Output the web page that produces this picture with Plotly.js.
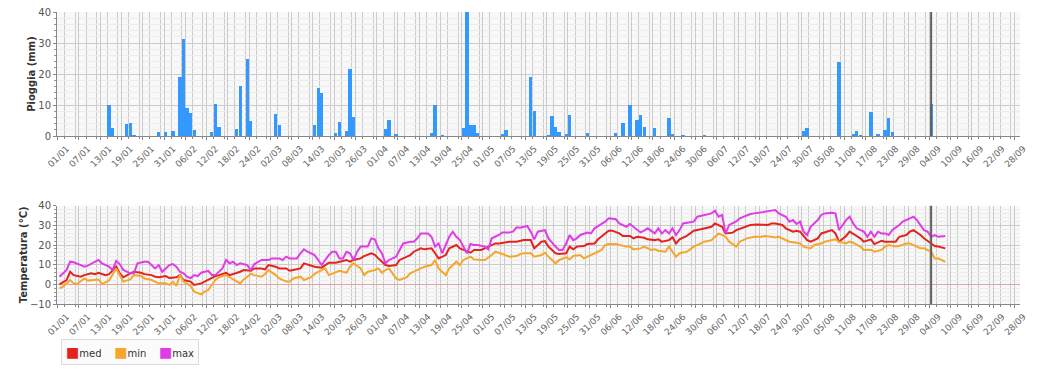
<!DOCTYPE html>
<html>
<head>
<meta charset="utf-8">
<script src="https://cdn.plot.ly/plotly-3.0.1.min.js"></script>
<style>
html,body{margin:0;padding:0;background:#ffffff;}
#chart{width:1039px;height:369px;}
</style>
</head>
<body>
<div id="chart"></div>
<script>
// ---- Data (day index counted from 01/01) ----
const rainDay = [14,15,19,20,21,28,30,32,34,35,36,37,38,43,44,45,50,51,53,54,61,62,72,73,74,78,79,81,82,83,92,93,95,105,106,108,114,115,116,117,118,125,126,133,134,138,139,140,141,143,144,149,157,159,161,163,164,165,168,172,173,176,182,210,211,220,224,225,226,229,231,233,234,235,246];
const rainMm = [10.0,2.7,3.8,4.1,0.4,1.4,1.4,1.7,18.9,31.2,8.9,7.5,1.9,1.2,10.3,3.0,2.3,16.1,24.9,4.9,7.1,3.5,3.5,15.4,14.0,0.9,4.5,1.7,21.5,6.2,2.2,5.2,0.5,0.9,9.9,0.3,2.6,45.0,3.7,3.7,1.1,0.6,1.9,18.9,8.1,0.3,6.3,2.9,1.2,0.6,6.7,1.1,0.9,4.3,9.9,5.2,6.7,2.8,2.6,5.9,0.5,0.3,0.3,1.6,2.5,23.8,0.6,1.6,0.4,7.8,0.6,1.9,5.9,1.4,10.2];

const medDay = [0,2,3,4,6,7,9,10,11,13,14,16,17,18,20,21,23,24,26,27,28,30,31,33,34,35,37,38,40,41,42,44,45,47,48,50,51,52,54,55,57,58,59,61,62,64,65,66,68,69,71,72,74,75,76,78,79,81,82,83,85,86,88,89,90,92,93,95,96,98,99,100,102,103,105,106,107,109,110,112,113,114,116,117,119,120,122,123,124,126,127,129,130,131,133,134,136,137,
138,140,141,143,144,145,146,148,149,151,152,154,155,156,158,159,161,162,163,165,166,168,169,170,172,173,174,175,177,178,179,181,182,184,185,186,187,188,190,191,193,194,195,197,198,200,201,202,204,205,207,208,209,211,212,214,215,217,218,219,220,222,223,225,226,227,229,230,232,233,234,236,237,239,240,241,243,244,246,247,248,250];
const medVal = [0,2.2,6.4,4.7,3.9,4.7,5.6,5.2,5.9,4.7,5.2,9.0,5.6,3.6,5.6,6.4,5.9,5.2,4.7,3.9,3.6,4.2,3.2,3.6,4.7,2.2,1.4,-0.3,0.5,1.4,2.5,4.2,4.7,5.9,4.7,5.6,6.4,7.3,6.9,8.1,8.1,7.6,9.8,9.0,8.1,8.1,6.9,7.3,8.1,10.7,9.8,9.0,8.5,9.8,11.0,11.0,11.5,12.4,11.5,12.4,13.2,14.4,15.8,15.0,13.2,9.8,9.3,9.8,12.4,14.1,14.9,16.6,18.3,17.8,18.3,15.8,13.2,14.9,18.3,20.0,18.3,17.5,16.1,17.5,17.5,18.3,20.0,20.8,20.8,21.2,21.7,21.7,22.2,22.5,22.5,18.3,21.7,22.0,
19.2,15.8,15.4,15.8,19.2,17.8,19.2,19.5,20.5,20.8,22.9,25.9,27.3,27.3,25.9,24.6,24.6,23.4,24.2,23.7,22.9,22.5,22.9,21.7,22.5,23.9,20.8,22.9,24.6,25.9,27.3,28.0,28.5,29.3,31.0,30.2,29.3,25.9,26.3,27.6,29.0,29.8,30.2,30.5,30.5,30.2,31.0,31.0,30.2,28.5,26.8,27.3,26.8,22.5,21.7,23.4,25.9,26.8,27.6,25.9,21.7,24.6,26.8,24.6,23.4,21.7,22.9,20.5,22.2,21.7,21.7,21.7,24.2,25.1,26.8,27.6,25.1,23.4,20.8,19.5,19.2,18.3];

const minDay = [0,1,3,4,5,7,8,10,11,12,14,16,17,18,20,21,23,24,26,27,28,30,31,32,33,34,35,37,38,40,41,42,44,45,47,48,50,51,52,54,55,57,58,59,61,62,64,65,66,68,69,71,72,74,75,76,78,79,81,82,83,85,86,87,89,90,91,92,93,95,96,98,99,100,102,103,105,106,107,109,110,112,113,114,116,117,119,120,122,123,124,126,127,129,130,131,133,134,136,137,
138,140,141,143,144,145,147,148,150,151,153,154,155,157,158,160,161,162,164,165,167,168,169,171,172,174,175,177,178,179,181,182,184,185,186,188,189,191,192,194,195,196,198,199,201,202,203,205,206,208,209,210,212,213,215,216,218,219,220,222,223,224,226,227,229,230,232,233,234,236,237,239,240,241,243,244,246,247,248,250];
const minVal = [-2.0,-1.2,2.2,0.5,0.2,3.0,1.9,2.2,2.5,0.2,1.9,8.1,4.7,1.4,2.5,4.7,4.2,3.0,2.2,1.4,0.5,0.5,-0.3,1.4,-0.8,4.7,1.4,-0.8,-3.7,-5.1,-3.7,-2.9,2.2,3.6,4.7,3.6,1.4,0.5,2.5,5.3,4.7,3.9,5.3,7.3,4.7,3.0,1.4,1.4,3.0,3.9,2.2,3.6,5.3,7.3,8.1,4.7,6.4,6.9,5.9,9.0,10.7,8.1,4.7,6.4,7.3,8.1,5.9,7.3,8.1,3.0,2.2,3.6,5.6,6.4,8.1,9.0,9.8,12.4,8.1,4.7,8.1,11.5,9.8,12.4,14.1,12.7,12.4,12.4,14.9,16.6,16.1,14.9,14.1,14.4,15.4,15.8,15.8,14.1,14.9,16.1,
14.1,10.7,12.4,13.7,12.7,14.4,14.9,13.2,14.9,15.8,17.5,20.0,20.5,20.5,20.0,19.2,19.2,17.8,18.3,19.2,17.5,17.8,17.1,16.6,19.2,14.1,15.8,16.6,17.8,19.2,20.8,21.7,22.5,24.2,25.9,24.2,21.7,19.2,21.7,23.4,23.9,24.2,24.2,24.6,24.2,23.9,24.2,22.5,21.7,21.2,20.8,19.2,18.3,20.0,20.8,21.7,22.5,22.9,21.7,20.8,21.7,21.2,19.2,17.5,17.5,16.6,17.5,19.2,20.0,19.2,19.5,20.8,20.8,20.0,18.3,18.3,16.6,13.2,13.2,11.5];

const maxDay = [0,2,3,4,6,7,8,10,11,12,13,14,15,16,17,18,20,21,22,24,25,26,27,28,29,30,31,32,33,34,35,36,37,38,39,40,42,43,44,46,47,48,49,50,51,53,54,55,56,57,59,60,62,63,64,65,66,67,68,69,70,71,72,73,74,75,76,77,78,79,80,81,82,83,84,85,87,88,89,90,91,92,93,95,96,97,99,100,101,102,104,105,106,107,108,109,110,111,112,113,114,115,116,117,118,120,121,122,124,125,127,128,129,130,132,133,134,135,137,
138,140,141,142,143,144,145,146,147,149,150,151,152,154,155,157,158,160,161,162,164,165,166,168,169,170,171,172,173,174,175,176,177,179,180,182,183,184,185,186,187,188,189,191,192,193,195,196,198,199,201,202,203,205,206,207,208,209,210,211,212,214,215,216,218,219,220,222,223,224,225,226,227,228,229,230,231,232,233,234,235,237,238,240,241,242,243,244,245,246,247,248,250];
const maxVal = [3.9,7.3,11.5,11.2,9.8,9.0,9.5,11.5,12.4,10.7,9.8,9.0,7.3,11.9,10.3,7.3,5.6,5.6,10.7,11.5,11.5,9.8,8.1,9.8,6.4,8.1,9.8,10.3,9.0,6.4,5.6,3.9,3.1,4.7,4.2,5.9,6.9,4.7,4.7,8.1,12.4,10.7,11.5,9.8,10.7,9.8,7.3,10.3,11.5,12.4,12.4,13.2,13.2,12.4,14.1,13.2,13.2,13.2,15.8,17.8,16.6,15.8,14.9,12.4,9.8,12.4,14.9,16.6,16.6,13.2,13.2,16.6,15.8,12.4,16.6,19.2,19.2,23.4,22.9,18.3,15.8,10.7,12.4,14.1,17.5,20.8,21.7,21.7,23.4,25.9,25.9,24.2,19.2,20.8,15.8,20.3,24.2,26.8,24.2,22.5,19.2,15.8,20.5,20.0,20.0,19.2,17.8,23.4,25.1,26.4,26.4,26.8,29.0,28.8,29.7,26.8,22.9,26.8,27.6,
23.4,19.2,17.5,17.5,20.8,25.1,22.5,23.4,25.1,26.3,25.9,28.5,29.7,31.9,33.6,33.1,31.0,29.3,30.7,29.3,26.4,27.3,28.5,25.9,28.5,25.9,27.6,25.9,28.5,25.1,27.6,31.0,31.4,31.9,34.4,35.3,35.8,36.1,37.5,34.4,35.3,25.9,30.2,32.0,33.6,34.4,35.8,36.1,36.4,36.9,37.5,37.8,36.1,34.4,31.9,32.7,30.7,31.9,26.8,25.1,29.3,32.7,35.3,36.1,36.4,36.1,27.6,32.7,34.4,31.0,28.5,27.6,26.8,24.2,26.8,24.2,26.8,25.9,25.9,25.1,27.6,30.2,31.9,33.6,34.4,32.7,30.2,27.6,26.8,24.2,25.1,24.2,24.6];

const markerDay = 246;          // current-day marker (04/09)
const seriesNames = ['med', 'min', 'max'];
const seriesColors = ['#e4231f', '#f5a62b', '#e03ce8'];
const rainColor = '#3399ff';
const yTitleRain = 'Pioggia (mm)';
const yTitleTemp = 'Temperatura (°C)';

// ---- helpers ----
const DAY = 86400000;
const T0 = Date.UTC(2023, 0, 1);
function toDate(d) {               // daily value centred on the day
  return new Date(T0 + (d + 0.5) * DAY).toISOString().replace('T', ' ').slice(0, 19);
}
function ms(d) { return new Date(T0 + d * DAY).toISOString().replace('T', ' ').slice(0, 19); }

const FONT = 'DejaVu Sans, Verdana, sans-serif';

const traces = [
  { type: 'bar', x: rainDay.map(toDate), y: rainMm, xaxis: 'x', yaxis: 'y',
    marker: { color: rainColor, line: { width: 0 } }, width: DAY * 0.92, showlegend: false },
  { type: 'scatter', mode: 'lines', x: medDay.map(toDate), y: medVal, xaxis: 'x2', yaxis: 'y2',
    line: { color: seriesColors[0], width: 2 }, showlegend: false, name: seriesNames[0] },
  { type: 'scatter', mode: 'lines', x: minDay.map(toDate), y: minVal, xaxis: 'x2', yaxis: 'y2',
    line: { color: seriesColors[1], width: 2 }, showlegend: false, name: seriesNames[1] },
  { type: 'scatter', mode: 'lines', x: maxDay.map(toDate), y: maxVal, xaxis: 'x2', yaxis: 'y2',
    line: { color: seriesColors[2], width: 2 }, showlegend: false, name: seriesNames[2] }
];

// compact legend box (square swatch + name for each series)
const legendText = seriesNames.map((n, i) =>
  '<span style="color:' + seriesColors[i] + ';font-size:14px">■</span>' + n).join('&nbsp;&nbsp;&nbsp;&nbsp;');

const xRange = [ms(-0.2), ms(271.58)];
const xCommon = {
  type: 'date', range: xRange, tick0: '2023-01-01', dtick: 6 * DAY, tickformat: '%d/%m',
  tickangle: -45, tickfont: { family: FONT, size: 9, color: '#666' }, ticklabelshift: 9,
  showgrid: true, gridcolor: '#cbcbcb', gridwidth: 1, automargin: false,
  minor: { dtick: 3 * DAY, showgrid: true, gridcolor: '#cbcbcb', ticks: 'outside', ticklen: 2, tickcolor: '#888' },
  ticks: 'outside', ticklen: 3, tickcolor: '#888',
  showline: true, linecolor: '#888', linewidth: 1, zeroline: false, fixedrange: true
};
const yCommon = {
  tickfont: { family: FONT, size: 10, color: '#555' }, showgrid: true, gridcolor: '#cbcbcb',
  ticks: 'outside', ticklen: 3, tickcolor: '#888', showline: true, linecolor: '#888', automargin: false,
  minor: { dtick: 2, showgrid: true, gridcolor: '#ededed', ticks: 'outside', ticklen: 2, tickcolor: '#999' },
  fixedrange: true
};

const layout = {
  width: 1039, height: 369,
  margin: { l: 57, r: 19, t: 12, b: 65 },
  paper_bgcolor: '#ffffff', plot_bgcolor: '#f8f8f8',
  font: { family: FONT, size: 10, color: '#444' },
  bargap: 0,
  showlegend: false,
  xaxis: Object.assign({}, xCommon, { anchor: 'y', domain: [0, 1] }),
  yaxis: Object.assign({}, yCommon, { anchor: 'x', domain: [0.5753, 1], range: [0, 40], dtick: 10, zeroline: false,
    title: { text: yTitleRain, font: { family: FONT, size: 10, color: '#333', weight: 'bold' }, standoff: 0 } }),
  xaxis2: Object.assign({}, xCommon, { anchor: 'y2', domain: [0, 1] }),
  yaxis2: Object.assign({}, yCommon, { anchor: 'x2', domain: [0, 0.3366], range: [-10, 40], dtick: 10,
    zeroline: true, zerolinecolor: '#e2a5a5', zerolinewidth: 1,
    title: { text: yTitleTemp, font: { family: FONT, size: 10, color: '#333', weight: 'bold' }, standoff: 0 } }),
  annotations: [
    { xref: 'paper', yref: 'paper', x: 0.004, y: -0.166, xanchor: 'left', yanchor: 'middle', showarrow: false,
      text: legendText, font: { family: FONT, size: 10, color: '#333' }, align: 'left',
      bgcolor: '#fbfbfb', bordercolor: '#dcdcdc', borderwidth: 1, borderpad: 4 }
  ],
  shapes: [
    { type: 'line', xref: 'x', yref: 'y domain', x0: toDate(markerDay), x1: toDate(markerDay), y0: 0, y1: 1,
      line: { color: '#606060', width: 2 } },
    { type: 'line', xref: 'x2', yref: 'y2 domain', x0: toDate(markerDay), x1: toDate(markerDay), y0: 0, y1: 1,
      line: { color: '#606060', width: 2 } }
  ]
};

Plotly.newPlot('chart', traces, layout, { displayModeBar: false, staticPlot: true });
</script>
</body>
</html>
